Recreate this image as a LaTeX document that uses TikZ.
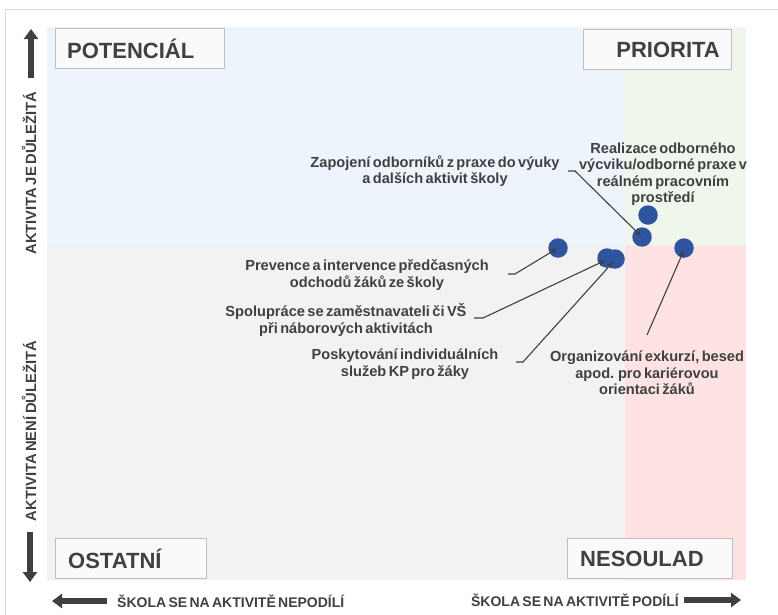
\documentclass[tikz,border=0pt]{standalone}
\usepackage{fontspec}
\setmainfont{Liberation Sans}[WordSpace=0.6]
\usetikzlibrary{arrows.meta}
\definecolor{bgblue}{RGB}{237,244,251}
\definecolor{bggreen}{RGB}{239,246,236}
\definecolor{bggray}{RGB}{242,242,242}
\definecolor{bgpink}{RGB}{255,227,227}
\definecolor{txtgray}{RGB}{64,64,64}
\definecolor{dotblue}{RGB}{47,84,160}
\definecolor{framegray}{RGB}{217,217,217}
\definecolor{boxgray}{RGB}{191,191,191}
\begin{document}
\begin{tikzpicture}[x=1pt,y=-1pt,
  qbox/.style={draw=boxgray,line width=1pt,fill=white!98!black,minimum height=40pt,inner xsep=0pt,inner ysep=0pt,
    font=\bfseries\fontsize{22}{24}\selectfont,text=txtgray,anchor=north west},
  qtxt/.style={font=\bfseries\fontsize{22}{24}\selectfont,text=txtgray,inner sep=0pt},
  dot/.style={circle,fill=dotblue,minimum size=19.5pt,inner sep=0pt},
  lbl/.style={font=\bfseries\fontsize{14.6}{16.4}\selectfont,text=txtgray,align=center},
  axlbl/.style={font=\bfseries\fontsize{14}{16}\selectfont,text=txtgray},
  vaxlbl/.style={font=\bfseries\fontsize{14.8}{16}\selectfont,text=txtgray},
  leader/.style={draw=txtgray,line width=1.1pt,-{Stealth[length=7pt,width=6pt]},shorten >=1pt},
  bigarrow/.style={draw=txtgray,line width=6.5pt,-{Triangle[length=10pt,width=14pt]}}]
\useasboundingbox (0,0) rectangle (778,614);
% outer frame
\draw[framegray,line width=1.5pt] (5.5,640) -- (5.5,9.5) -- (800,9.5);
% quadrants
\fill[bgblue] (47,27) rectangle (625,245);
\fill[bggreen] (625,27) rectangle (746,245);
\fill[bggray] (47,245) rectangle (625,580);
\fill[bgpink] (625,245) rectangle (746,580);
% quadrant labels
\node[qbox,minimum width=169pt] (potbox) at (55,28) {};
\node[qtxt,anchor=west] (pot) at ([xshift=12pt]potbox.west) {POTENCIÁL};
\node[qbox,minimum width=148pt] (pribox) at (583,29) {};
\node[qtxt,anchor=east] (pri) at ([xshift=-12pt]pribox.east) {PRIORITA};
\node[qbox,minimum width=151pt] (ostbox) at (55,538) {};
\node[qtxt,anchor=west] (ost) at ([xshift=13pt]ostbox.west) {OSTATNÍ};
\node[qbox,minimum width=165pt] (nesbox) at (567,538) {};
\node[qtxt,anchor=west] (nes) at ([xshift=13pt]nesbox.west) {NESOULAD};
% axes
\coordinate (upS) at (31,78); \coordinate (upT) at (31,29);
\draw[bigarrow] (upS) -- (upT);
\coordinate (dnS) at (30,532); \coordinate (dnT) at (30,582);
\draw[bigarrow] (dnS) -- (dnT);
\coordinate (lfS) at (107,601); \coordinate (lfT) at (52,601);
\draw[bigarrow] (lfS) -- (lfT);
\coordinate (rtS) at (684,600); \coordinate (rtT) at (741,600);
\draw[bigarrow] (rtS) -- (rtT);
\node[vaxlbl,rotate=90] (ax1) at (29,173) {AKTIVITA JE DŮLEŽITÁ};
\node[vaxlbl,rotate=90] (ax2) at (29,431) {AKTIVITA NENÍ DŮLEŽITÁ};
\node[axlbl,anchor=west,inner sep=0pt] (ax3) at (117,601) {ŠKOLA SE NA AKTIVITĚ NEPODÍLÍ};
\node[axlbl,anchor=east,inner sep=0pt] (ax4) at (679,600) {ŠKOLA SE NA AKTIVITĚ PODÍLÍ};
% dots
\node[dot] (dA) at (648,215) {};
\node[dot] (dB) at (642,237) {};
\node[dot] (dC) at (558,248) {};
\node[dot] (dD) at (607,258) {};
\node[dot] (dE) at (615,259) {};
\node[dot] (dF) at (684,248) {};
% labels
\node[lbl] (lZap) at (435,171) {Zapojení odborníků z praxe do výuky\\a dalších aktivit školy};
\node[lbl] (lRea) at (663,174) {Realizace odborného\\výcviku/odborné praxe v\\reálném pracovním\\prostředí};
\node[lbl] (lPre) at (367,275) {Prevence a intervence předčasných\\odchodů žáků ze školy};
\node[lbl] (lSpo) at (346,320) {Spolupráce se zaměstnavateli či VŠ\\při náborových aktivitách};
\node[lbl] (lPos) at (405,364) {Poskytování individuálních\\služeb KP pro žáky};
\node[lbl] (lOrg) at (647,373) {Organizování exkurzí, besed\\apod. pro kariérovou\\orientaci žáků};
% leaders
\coordinate (zA) at (568,171); \coordinate (zB) at (575,171);
\draw[leader] (zA) -- (zB) -- (dB.center);
\coordinate (pA) at (508,274); \coordinate (pB) at (515,274);
\draw[leader] (pA) -- (pB) -- (dC.center);
\coordinate (sA) at (474,318); \coordinate (sB) at (483,318);
\draw[leader] (sA) -- (sB) -- ([shift={(-1,2)}]dD.center);
\coordinate (kA) at (516,362); \coordinate (kB) at (523,362);
\draw[leader] (kA) -- (kB) -- ([shift={(-1,2)}]dE.center);
\coordinate (oA) at (647,335);
\draw[leader] (oA) -- ([shift={(0,2)}]dF.center);
\end{tikzpicture}
\end{document}
